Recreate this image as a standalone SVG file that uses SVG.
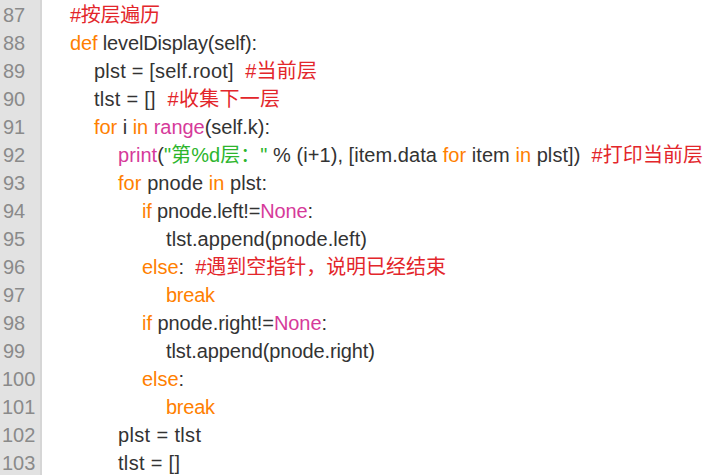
<svg xmlns="http://www.w3.org/2000/svg" width="721" height="475" viewBox="0 0 721 475">
<style>
text{font-family:"Liberation Sans","Noto Sans CJK SC",sans-serif;font-size:20px;fill:#333333;white-space:pre;}
.ln{fill:#8a8a8a;}
.k{fill:#ff8000;}
.b{fill:#d63a9a;}
.s{fill:#2db52d;}
.c{fill:#e3262b;}
</style>
<rect x="0" y="0" width="721" height="475" fill="#ffffff"/>
<g id="gutter">
<rect x="0" y="0" width="41" height="475" fill="#e2e2e2"/>
<rect x="40" y="0" width="2" height="475" fill="#d6d6d6"/>
<text class="ln" x="3" y="22">87</text>
<text class="ln" x="3" y="50">88</text>
<text class="ln" x="3" y="78">89</text>
<text class="ln" x="3" y="106">90</text>
<text class="ln" x="3" y="134">91</text>
<text class="ln" x="3" y="162">92</text>
<text class="ln" x="3" y="190">93</text>
<text class="ln" x="3" y="218">94</text>
<text class="ln" x="3" y="246">95</text>
<text class="ln" x="3" y="274">96</text>
<text class="ln" x="3" y="302">97</text>
<text class="ln" x="3" y="330">98</text>
<text class="ln" x="3" y="358">99</text>
<text class="ln" x="2" y="386">100</text>
<text class="ln" x="2" y="414">101</text>
<text class="ln" x="2" y="442">102</text>
<text class="ln" x="2" y="470">103</text>
</g>
<g id="code" xml:space="preserve">
<text x="70" y="22" textLength="90" lengthAdjust="spacing"><tspan class="c">#按层遍历</tspan></text>
<text x="70" y="50" textLength="187" lengthAdjust="spacing"><tspan class="k">def</tspan> levelDisplay(self):</text>
<text x="94" y="78" textLength="223" lengthAdjust="spacing">plst = [self.root]  <tspan class="c">#当前层</tspan></text>
<text x="94" y="106" textLength="186" lengthAdjust="spacing">tlst = []  <tspan class="c">#收集下一层</tspan></text>
<text x="94" y="134" textLength="176" lengthAdjust="spacing"><tspan class="k">for</tspan> i <tspan class="k">in</tspan> <tspan class="b">range</tspan>(self.k):</text>
<text x="118" y="162" textLength="585" lengthAdjust="spacing"><tspan class="b">print</tspan>(<tspan class="s">"第%d层："</tspan> % (i+1), [item.data <tspan class="k">for</tspan> item <tspan class="k">in</tspan> plst])  <tspan class="c">#打印当前层</tspan></text>
<text x="118" y="190" textLength="149" lengthAdjust="spacing"><tspan class="k">for</tspan> pnode <tspan class="k">in</tspan> plst:</text>
<text x="142" y="218" textLength="171" lengthAdjust="spacing"><tspan class="k">if</tspan> pnode.left!=<tspan class="b">None</tspan>:</text>
<text x="166" y="246" textLength="201" lengthAdjust="spacing">tlst.append(pnode.left)</text>
<text x="142" y="274" textLength="304" lengthAdjust="spacing"><tspan class="k">else</tspan>:  <tspan class="c">#遇到空指针，说明已经结束</tspan></text>
<text x="166" y="302" textLength="49" lengthAdjust="spacing"><tspan class="k">break</tspan></text>
<text x="142" y="330" textLength="185" lengthAdjust="spacing"><tspan class="k">if</tspan> pnode.right!=<tspan class="b">None</tspan>:</text>
<text x="166" y="358" textLength="209" lengthAdjust="spacing">tlst.append(pnode.right)</text>
<text x="142" y="386" textLength="42" lengthAdjust="spacing"><tspan class="k">else</tspan>:</text>
<text x="166" y="414" textLength="49" lengthAdjust="spacing"><tspan class="k">break</tspan></text>
<text x="118" y="442" textLength="83" lengthAdjust="spacing">plst = tlst</text>
<text x="118" y="470" textLength="62" lengthAdjust="spacing">tlst = []</text>
</g>
</svg>
